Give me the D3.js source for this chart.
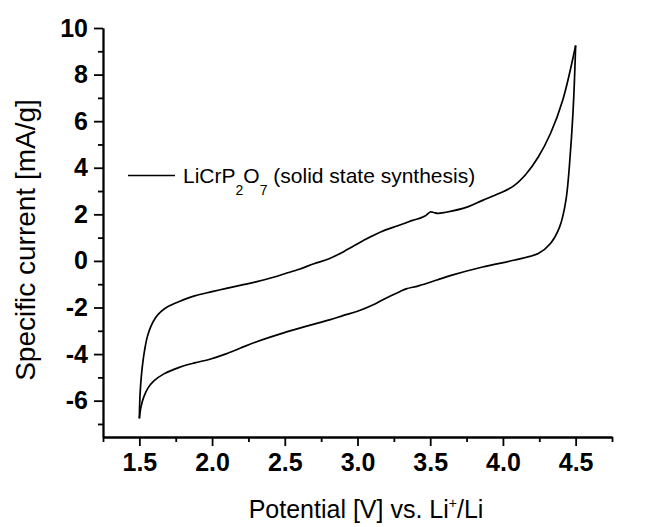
<!DOCTYPE html>
<html><head><meta charset="utf-8">
<script src="https://cdn.jsdelivr.net/npm/d3@7"></script>
<style>body{margin:0;background:#fff}</style>
</head><body>
<svg id="c" width="657" height="527"></svg>
<script>
// Anodic sweep (1.5 V -> 4.5 V): [potential V, specific current mA/g]
const anodic = [[1.5,-6.76],[1.502,-6.2],[1.506,-5.6],[1.513,-5.0],[1.523,-4.4],[1.537,-3.8],[1.555,-3.25],[1.58,-2.8],[1.61,-2.45],[1.65,-2.17],[1.7,-1.95],[1.775,-1.74],[1.88,-1.5],[2.0,-1.32],[2.091,-1.19],[2.2,-1.04],[2.302,-0.9],[2.428,-0.69],[2.5,-0.55],[2.6,-0.36],[2.7,-0.12],[2.8,0.08],[2.91,0.42],[3.06,0.94],[3.167,1.26],[3.272,1.5],[3.335,1.64],[3.378,1.74],[3.44,1.86],[3.47,1.95],[3.5,2.1],[3.525,2.08],[3.55,2.04],[3.6,2.08],[3.758,2.32],[3.86,2.6],[3.968,2.88],[4.074,3.22],[4.158,3.72],[4.243,4.46],[4.327,5.47],[4.411,6.9],[4.5,9.25]];
// Cathodic sweep (4.5 V -> 1.5 V)
const cathodic = [[4.5,9.25],[4.486,6.9],[4.465,4.75],[4.433,2.6],[4.39,1.46],[4.327,0.75],[4.243,0.32],[4.074,0.03],[3.86,-0.26],[3.65,-0.61],[3.547,-0.82],[3.42,-1.07],[3.335,-1.2],[3.29,-1.32],[3.188,-1.62],[3.12,-1.85],[3.0,-2.16],[2.9,-2.35],[2.808,-2.53],[2.65,-2.8],[2.492,-3.09],[2.302,-3.48],[2.196,-3.74],[2.091,-4.0],[1.985,-4.22],[1.88,-4.38],[1.775,-4.57],[1.669,-4.85],[1.6,-5.15],[1.56,-5.45],[1.53,-5.85],[1.511,-6.27],[1.5,-6.76]];
const xTicks = [1.5,2.0,2.5,3.0,3.5,4.0,4.5];
const xMinor = [1.25,1.75,2.25,2.75,3.25,3.75,4.25,4.75];
const yTicks = [-6,-4,-2,0,2,4,6,8,10];
const yMinor = [-7,-5,-3,-1,1,3,5,7,9];

const svg = d3.select("#c");
const mL = 103, mR = 612, mT = 28, mB = 437;
const x = d3.scaleLinear().domain([1.25, 4.75]).range([mL, mR]);
const y = d3.scaleLinear().domain([-7.56, 10]).range([mB, mT]);
const FONT = "Liberation Sans, Arial, sans-serif";

const axStyle = g => {
  g.selectAll("path.domain").attr("stroke","#000").attr("stroke-width",1.8);
  g.selectAll(".tick line").attr("stroke","#000").attr("stroke-width",1.8);
  g.selectAll(".tick text").attr("font-family",FONT).attr("font-weight","bold").attr("font-size","25px").attr("fill","#000");
};

// X axis
svg.append("g").attr("transform",`translate(0,${mB})`)
  .call(d3.axisBottom(x).tickValues(xMinor).tickSize(5).tickFormat("").tickSizeOuter(0))
  .call(axStyle);
svg.append("g").attr("transform",`translate(0,${mB})`)
  .call(d3.axisBottom(x).tickValues(xTicks).tickSize(9).tickPadding(7).tickFormat(d3.format(".1f")).tickSizeOuter(0))
  .call(axStyle);
// Y axis
svg.append("g").attr("transform",`translate(${mL},0)`)
  .call(d3.axisLeft(y).tickValues(yMinor).tickSize(5).tickFormat("").tickSizeOuter(0))
  .call(axStyle);
svg.append("g").attr("transform",`translate(${mL},0)`)
  .call(d3.axisLeft(y).tickValues(yTicks).tickSize(9).tickPadding(6).tickFormat(d => String(d)).tickSizeOuter(0))
  .call(axStyle);

// Curve
const lineC = d3.line().x(d=>x(d[0])).y(d=>y(d[1])).curve(d3.curveCatmullRom.alpha(0.5));
svg.append("path").datum(anodic).attr("d", lineC).attr("fill","none").attr("stroke","#000").attr("stroke-width",1.7);
svg.append("path").datum(cathodic).attr("d", lineC).attr("fill","none").attr("stroke","#000").attr("stroke-width",1.7);

// Legend
svg.append("line").attr("x1",128).attr("x2",175).attr("y1",175.5).attr("y2",175.5).attr("stroke","#000").attr("stroke-width",1.7);
const lt = svg.append("text").attr("x",183).attr("y",183).attr("font-family",FONT).attr("font-size","21px").attr("fill","#000");
lt.append("tspan").text("LiCrP");
lt.append("tspan").attr("font-size","14px").attr("dy",12).text("2");
lt.append("tspan").attr("dy",-12).text("O");
lt.append("tspan").attr("font-size","14px").attr("dy",12).text("7");
lt.append("tspan").attr("dy",-12).text(" (solid state synthesis)");

// Axis titles
const xt = svg.append("text").attr("x",366).attr("y",518).attr("text-anchor","middle")
  .attr("font-family",FONT).attr("font-size","25px").attr("fill","#000");
xt.append("tspan").text("Potential [V] vs. Li");
xt.append("tspan").attr("font-size","14px").attr("dy",-10).text("+");
xt.append("tspan").attr("dy",10).text("/Li");

svg.append("text").attr("transform",`translate(35,240) rotate(-90)`).attr("text-anchor","middle")
  .attr("font-family",FONT).attr("font-size","28px").attr("fill","#000")
  .text("Specific current [mA/g]");
</script>
</body></html>
